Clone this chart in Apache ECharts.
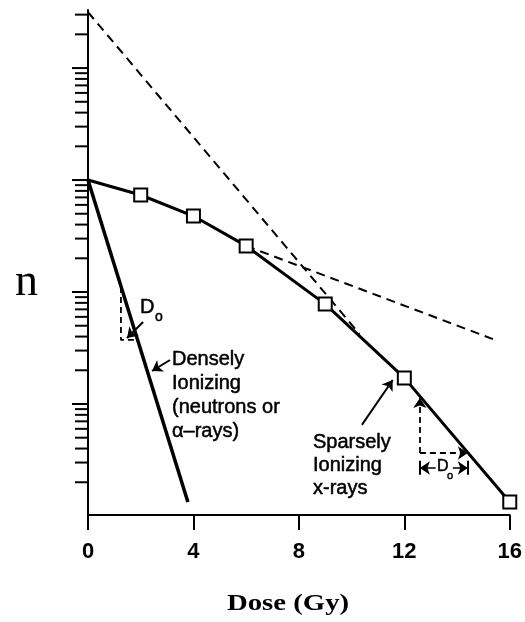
<!DOCTYPE html>
<html><head><meta charset="utf-8">
<script src="https://cdn.jsdelivr.net/npm/echarts@6/dist/echarts.min.js"></script>
<style>html,body{margin:0;padding:0;background:#fff}#c{width:525px;height:622px}</style>
</head><body><div id="c"></div>
<script>
// ---- data ----
const xTickLabels = [0, 4, 8, 12, 16];
const xRayDose = [0, 2, 4, 6, 9, 12, 16];
const xRaySurv = [1, 0.735, 0.477, 0.258, 0.078, 0.0171, 0.00133];
const denseDose = [0, 3.79];
const denseSurv = [1, 0.00133];
const extrapDose = [0, 10.3];
const extrapSurv = [31.6, 0.0422];
const initSlopeDose = [6, 15.36];
const initSlopeSurv = [0.258, 0.038];
const d0DenseDose = [1.25, 1.25, 1.9];
const d0DenseSurv = [0.111, 0.0373, 0.0373];
const d0XDose = [12.59, 14.41];
const d0XSurv = [0.01132, 0.00365];
const dimSurv = [0.00268, 0.00312, 0.00233];
const denseArrow = [[3.11, 0.0247], [2.43, 0.0197]];
const sparseArrow = [[10.39, 0.0065], [11.56, 0.01637]];
const d0Arrow = [[2.09, 0.054], [1.48, 0.0388]];
const yTickValues = [
  0.002, 0.003, 0.004, 0.005, 0.006, 0.007, 0.008, 0.009,
  0.01, 0.02, 0.03, 0.04, 0.05, 0.06, 0.07, 0.08, 0.09,
  0.1, 0.2, 0.3, 0.4, 0.5, 0.6, 0.7, 0.8, 0.9,
  1, 2, 3, 4, 5, 6, 7, 8, 9, 10, 20, 30
];

const zip = (a, b) => a.map((v, i) => [v, b[i]]);
const SANS = '"Liberation Sans", Arial, sans-serif';
const SERIF = '"Liberation Serif", "Times New Roman", serif';
const dash = [9, 6];

const chart = echarts.init(document.getElementById('c'), null, {renderer: 'canvas'});

const xRayData = zip(xRayDose, xRaySurv).map((p, i) => i === 0 ? {value: p, symbol: 'none'} : {value: p});

const arrowLine = (pair) => [
  {coord: pair[0], symbol: 'none'},
  {coord: pair[1], symbol: 'arrow'}
];

const txt = (x, y, text, font, extra) => ({
  type: 'text', x: x, y: y, silent: true,
  style: Object.assign({text: text, font: font, fill: '#000', stroke: '#000', lineWidth: 0.5, verticalAlign: 'middle'}, extra || {})
});

const option = {
  animation: false,
  backgroundColor: '#fff',
  grid: {left: 88, right: 15, top: 10, bottom: 107},
  xAxis: {
    type: 'value', min: 0, max: 16, interval: 4,
    axisLine: {lineStyle: {color: '#000', width: 2}},
    axisTick: {length: 15, lineStyle: {color: '#000', width: 2}},
    axisLabel: {
      color: '#000', fontSize: 22, fontWeight: 'bold', fontFamily: SANS, margin: 26,
      formatter: (v) => xTickLabels.includes(v) ? String(v) : ''
    },
    splitLine: {show: false}
  },
  yAxis: {
    type: 'log', logBase: 10, min: 0.00102, max: 33,
    axisLine: {show: true, lineStyle: {color: '#000', width: 2}},
    axisTick: {show: false}, axisLabel: {show: false},
    splitLine: {show: false}, minorTick: {show: false}
  },
  series: [
    {
      type: 'custom', silent: true, clip: false, z: 5,
      data: yTickValues.map(v => [0, v]),
      renderItem: (params, api) => {
        const v = api.value(1);
        const p = api.coord([0, v]);
        const lg = Math.log10(v);
        const major = Math.abs(lg - Math.round(lg)) < 1e-9;
        const len = major ? 16 : 13;
        return {type: 'line', shape: {x1: p[0] - len, y1: p[1], x2: p[0], y2: p[1]},
                style: {stroke: '#000', lineWidth: 2}};
      }
    },
    {
      type: 'line', silent: true, symbol: 'none', z: 2,
      data: zip(extrapDose, extrapSurv),
      lineStyle: {color: '#000', width: 2, type: dash}
    },
    {
      type: 'line', silent: true, symbol: 'none', z: 2,
      data: zip(initSlopeDose, initSlopeSurv),
      lineStyle: {color: '#000', width: 2, type: dash}
    },
    {
      type: 'line', silent: true, symbol: 'none', z: 3,
      data: zip(denseDose, denseSurv),
      lineStyle: {color: '#000', width: 3.5}
    },
    {
      type: 'line', silent: true, symbol: 'none', z: 3,
      data: zip(d0DenseDose, d0DenseSurv),
      lineStyle: {color: '#000', width: 1.8, type: [6, 4]},
      markLine: {
        silent: true, animation: false, symbolSize: 10,
        label: {show: false},
        lineStyle: {color: '#000', width: 2, type: 'solid'},
        data: [
          arrowLine(denseArrow),
          arrowLine(sparseArrow),
          arrowLine(d0Arrow),
          [{coord: [d0XDose[0], d0XSurv[1]], symbol: 'none'}, {coord: [d0XDose[0], d0XSurv[0]], symbol: 'arrow', lineStyle: {type: [6, 4], width: 1.8}}],
          [{coord: [d0XDose[0], d0XSurv[1]], symbol: 'none'}, {coord: [d0XDose[1], d0XSurv[1]], symbol: 'arrow', lineStyle: {type: [6, 4], width: 1.8}}],
          [{coord: [13.19, dimSurv[0]], symbol: 'none'}, {coord: [d0XDose[0], dimSurv[0]], symbol: 'arrow', lineStyle: {width: 1.5}}],
          [{coord: [13.84, dimSurv[0]], symbol: 'none'}, {coord: [d0XDose[1], dimSurv[0]], symbol: 'arrow', lineStyle: {width: 1.5}}],
          [{coord: [d0XDose[0], dimSurv[1]], symbol: 'none'}, {coord: [d0XDose[0], dimSurv[2]], symbol: 'none'}],
          [{coord: [d0XDose[1], dimSurv[1]], symbol: 'none'}, {coord: [d0XDose[1], dimSurv[2]], symbol: 'none'}]
        ]
      }
    },
    {
      type: 'line', silent: true, z: 4,
      data: xRayData,
      symbol: 'rect', symbolSize: 13, showAllSymbol: true,
      itemStyle: {color: '#fff', borderColor: '#000', borderWidth: 2},
      lineStyle: {color: '#000', width: 3}
    }
  ],
  graphic: [
    {type: 'text', x: 15, y: 283, silent: true, style: {text: 'n', font: '46px ' + SERIF, fill: '#000', verticalAlign: 'middle'}},
    {type: 'text', x: 288, y: 604, scaleX: 1.25, silent: true, style: {text: 'Dose (Gy)', font: 'bold 23px ' + SERIF, fill: '#000', align: 'center', verticalAlign: 'middle'}},
    txt(172, 347, 'Densely\nIonizing\n(neutrons or\nα–rays)', '20px ' + SANS, {lineHeight: 24, verticalAlign: 'top'}),
    txt(313, 431, 'Sparsely\nIonizing\nx-rays', '20px ' + SANS, {lineHeight: 23, verticalAlign: 'top'}),
    txt(140, 307, 'D', '20px ' + SANS),
    txt(155, 317, 'o', '14px ' + SANS),
    txt(437, 467, 'D', '16px ' + SANS),
    txt(447, 476, 'o', '11px ' + SANS)
  ]
};
chart.setOption(option);
</script>
</body></html>
